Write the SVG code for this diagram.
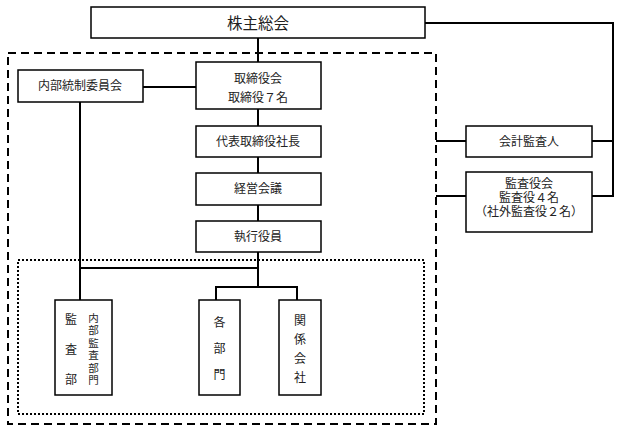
<svg xmlns="http://www.w3.org/2000/svg" width="619" height="431" viewBox="0 0 619 431">
<style>
.box{fill:#fff;stroke:#000;stroke-width:1.5}
.ln{fill:none;stroke:#000;stroke-width:2}
.dash{fill:none;stroke:#000;stroke-width:2;stroke-dasharray:8 5}
.dot{fill:none;stroke:#000;stroke-width:2;stroke-dasharray:2 2}
text{font-family:"Liberation Serif","Noto Sans CJK JP",serif;font-size:12px;fill:#222;text-anchor:middle;dominant-baseline:central}
.big{font-size:15.5px}
.sm{font-size:10.5px}
</style>
<rect width="619" height="431" fill="#fff"/>
<rect class="dash" x="8" y="53" width="428" height="371"/>
<rect class="dot" x="18" y="260" width="406" height="154"/>
<g id="connectors">
<path class="ln" d="M258 38V63M258 109V126M258 157V173M258 205V221M258 252V287M80 268H258M80 102V300M143 87H196M216 300V287H297V300M425 23H613V196H592M592 141H613M436 141H466M436 196H466"/>
</g>
<g id="n-shareholders"><rect class="box" x="91" y="7" width="334" height="31"/><text class="big" x="258" y="23">株主総会</text></g>
<g id="n-board"><rect class="box" x="196" y="62" width="125" height="47"/><text x="258" y="79">取締役会</text><text x="258" y="97.5">取締役７名</text></g>
<g id="n-internal-control"><rect class="box" x="18" y="70" width="125" height="32"/><text x="80" y="86">内部統制委員会</text></g>
<g id="n-president"><rect class="box" x="196" y="126" width="125" height="31"/><text x="258" y="141.5">代表取締役社長</text></g>
<g id="n-management"><rect class="box" x="196" y="173" width="125" height="32"/><text x="258" y="189">経営会議</text></g>
<g id="n-officers"><rect class="box" x="196" y="221" width="125" height="31"/><text x="258" y="236.5">執行役員</text></g>
<g id="n-auditor"><rect class="box" x="466" y="126" width="126" height="31"/><text x="529" y="141.5">会計監査人</text></g>
<g id="n-audit-board"><rect class="box" x="466" y="172" width="126" height="60"/><text x="529" y="184">監査役会</text><text x="529" y="198">監査役４名</text><text x="529" y="212">（社外監査役２名）</text></g>
<g id="n-audit-dept"><rect class="box" x="55" y="300" width="57" height="95"/>
<text><tspan x="71" y="319.5">監</tspan><tspan x="71" y="349.5">査</tspan><tspan x="71" y="379.5">部</tspan></text>
<text class="sm"><tspan x="93.5" y="317.5">内</tspan><tspan x="93.5" y="330">部</tspan><tspan x="93.5" y="342.5">監</tspan><tspan x="93.5" y="355">査</tspan><tspan x="93.5" y="367.5">部</tspan><tspan x="93.5" y="380">門</tspan></text></g>
<g id="n-departments"><rect class="box" x="199" y="300" width="41" height="95"/>
<text><tspan x="219.5" y="323">各</tspan><tspan x="219.5" y="349">部</tspan><tspan x="219.5" y="374.5">門</tspan></text></g>
<g id="n-affiliates"><rect class="box" x="279" y="300" width="42" height="95"/>
<text><tspan x="300" y="320.5">関</tspan><tspan x="300" y="339.5">係</tspan><tspan x="300" y="358.5">会</tspan><tspan x="300" y="377.5">社</tspan></text></g>
</svg>
